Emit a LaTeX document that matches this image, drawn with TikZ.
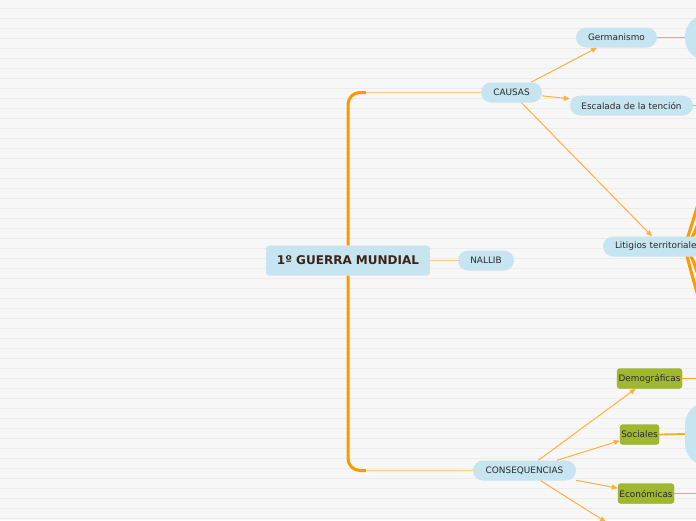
\documentclass[tikz,border=0pt]{standalone}
\usepackage{fontspec}
\setmainfont{DejaVu Sans}
\usetikzlibrary{arrows.meta}

\definecolor{paper}{HTML}{F7F7F7}
\definecolor{ruleline}{HTML}{ECECEC}
\definecolor{topicblue}{HTML}{C6E5F0}
\definecolor{leafgreen}{HTML}{A0B82E}
\definecolor{leafedge}{HTML}{93AA2A}
\definecolor{deeporange}{HTML}{FF9900}
\definecolor{midorange}{HTML}{FFB040}
\definecolor{paleorange}{HTML}{FFCB80}
\definecolor{inkdark}{HTML}{2A2A2A}
\definecolor{inkbrown}{HTML}{3A2416}

\tikzset{
  pill/.style={fill=topicblue, rounded corners=10pt, minimum height=20pt,
    inner sep=0pt, text=inkdark, font=\fontsize{8.9}{10}\selectfont},
  leaf/.style={fill=leafgreen, draw=leafedge, rounded corners=3pt,
    minimum height=20pt, inner sep=0pt, text=inkdark,
    font=\fontsize{8.9}{10}\selectfont},
  blob/.style={fill=topicblue, rounded corners=22pt, inner sep=0pt},
  trunk/.style={draw=deeporange, line width=3pt},
  thin/.style={draw=paleorange, line width=1pt},
  branch/.style={draw=deeporange!85, line width=1.8pt},
  link/.style={draw=midorange, line width=1pt,
    -{Triangle[length=6pt,width=5pt]}},
}

\begin{document}
\begin{tikzpicture}[x=1pt,y=-1pt]
\useasboundingbox (0,0) rectangle (696,520);
\clip (0,0) rectangle (696,520);
% ruled paper
\fill[paper] (0,0) rectangle (696,520);
\foreach \y in {8,18,...,518}
  \draw[ruleline, line width=0.7pt] (0,\y) -- (696,\y);

% central topic
\node[fill=topicblue, rounded corners=3pt, minimum width=164pt,
  minimum height=30pt, inner sep=0pt, text=inkbrown,
  font=\fontsize{12}{14}\bfseries] (guerra) at (348,260.5) {1º GUERRA MUNDIAL};

% main branches
\node[pill, minimum width=61pt] (causas) at (511.5,92.5) {CAUSAS};
\node[pill, minimum width=56pt] (nallib) at (486,260.5) {NALLIB};
\node[pill, minimum width=103pt] (conseq) at (524.5,470.5) {CONSEQUENCIAS};

\coordinate (ctop) at (366,92.5);
\coordinate (cbot) at (366,470.5);
\draw[trunk, rounded corners=12pt] (guerra.north) |- (ctop);
\draw[trunk, rounded corners=12pt] (guerra.south) |- (cbot);
\draw[thin] (ctop) -- (causas.west);
\draw[thin] (cbot) -- (conseq.west);
\draw[thin] (guerra.east) -- (nallib.west);

% causas
\node[pill, minimum width=81pt] (germ) at (616.5,37.5) {Germanismo};
\node[pill, minimum width=123pt] (escal) at (631.5,105.5) {Escalada de la tención};
\node[blob, minimum width=80pt, minimum height=46pt] (germblob) at (725,37.5) {};
\coordinate (escend) at (700,105.5);

\coordinate (lithub) at (684,246.5);
\draw[trunk] (lithub) .. controls +(4,-8) and +(-4,12) .. (700,198);
\draw[trunk] (lithub) .. controls +(9,-6) and +(-3,8) .. (700,218);
\draw[trunk] (lithub) .. controls +(3,8) and +(-5,-14) .. (700,302);
\draw[trunk] (lithub) .. controls +(8,6) and +(-3,-10) .. (700,282);
\node[pill, minimum width=118pt, align=left, text width=94pt]
  (litig) at (662,246.5) {Litigios territoriales};

\draw[link] (causas) -- (germ);
\draw[link] (causas) -- (escal);
\draw[link] (causas) -- (litig);
\draw[branch] (germ.east) -- (germblob.west);
\draw[branch] (escal.east) -- (escend);

% consecuencias
\node[leaf, minimum width=65pt] (demog) at (649.5,378.5) {Demográficas};
\node[leaf, minimum width=39pt] (socia) at (639.5,434.5) {Sociales};
\node[leaf, minimum width=56pt] (econo) at (646,493.5) {Económicas};
\node[blob, minimum width=80pt, minimum height=63pt] (socblob) at (725,434) {};
\coordinate (demend) at (700,378.5);
\coordinate (ecoend) at (700,493.5);
\coordinate (conend) at (606,522);

\draw[link] (conseq) -- (demog);
\draw[link] (conseq) -- (socia);
\draw[link] (conseq) -- (econo);
\draw[link] (conseq) -- (conend);
\draw[branch] (demog.east) -- (demend);
\draw[branch] (socia.east) -- (socblob.west);
\draw[branch] (econo.east) -- (ecoend);
\end{tikzpicture}
\end{document}
